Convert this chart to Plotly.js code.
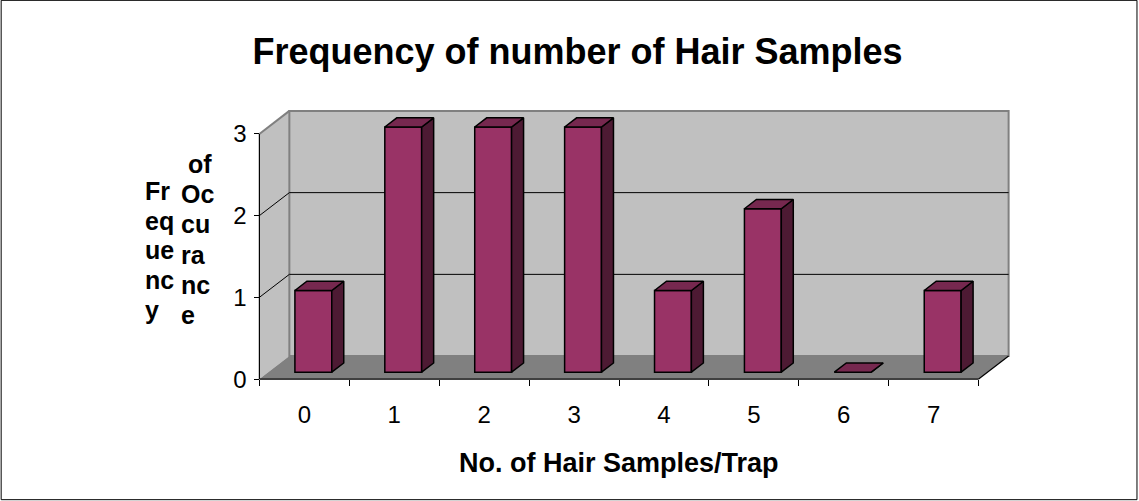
<!DOCTYPE html>
<html>
<head>
<meta charset="utf-8">
<script src="https://cdn.plot.ly/plotly-3.0.1.min.js"></script>
<style>html,body{margin:0;padding:0;background:#fff;}#chart{width:1139px;height:501px;}</style>
</head>
<body>
<div id="chart"></div>
<script>
// ---- data ----
const categories = ['0', '1', '2', '3', '4', '5', '6', '7'];
const frequency = [1, 3, 3, 3, 1, 2, 0, 1];
const yTickValues = [0, 1, 2, 3];
const yTickLabels = ['0', '1', '2', '3'];
const chartTitle = 'Frequency of number of Hair Samples';
const xTitle = 'No. of Hair Samples/Trap';
const yTitleCol1 = ['Fr', 'eq', 'ue', 'nc', 'y'];
const yTitleCol2 = ['of', 'Oc', 'cu', 'ra', 'nc', 'e'];

// ---- 3D oblique projection settings ----
const W = 1139, H = 501;
const DX = 1 / 3;       // depth offset along x (category units)
const DY = 23 / 81.67;  // depth offset along y (value units)
const FRONT = 0.3, BACK = 0.7; // bar depth band
const BW = 0.41;        // bar width
const NCAT = categories.length;
const YMAX = 3;
const E = 0.06;
const PXX = 90, PXY = 81.67;

const xRange = [-0.5 - E, NCAT - 0.5 + DX + E];
const yRange = [-E, YMAX + DY + E];
const plotW = (xRange[1] - xRange[0]) * PXX;
const plotH = (yRange[1] - yRange[0]) * PXY;
const mL = 259 - E * PXX;
const mR = W - mL - plotW;
const mB = (H - 379) - E * PXY;
const mT = H - mB - plotH;

const FONT = 'Arial, "Liberation Sans", Helvetica, sans-serif';
const FRONT_COL = '#993366', TOP_COL = '#76284f', SIDE_COL = '#4d1a33';

const traces = [];
// front faces via bar trace
const xs = categories.map((c, i) => i + FRONT * DX);
traces.push({
  type: 'bar', x: xs, y: frequency, base: frequency.map(() => FRONT * DY),
  width: BW, marker: {color: FRONT_COL, line: {color: '#000', width: 1.5}},
  hoverinfo: 'skip', showlegend: false, xaxis: 'x', yaxis: 'y'
});
// top and side faces
frequency.forEach((v, i) => {
  const x0 = i - BW / 2, x1 = i + BW / 2;
  traces.push({
    type: 'scatter', mode: 'lines', fill: 'toself', fillcolor: SIDE_COL,
    x: [x1 + FRONT * DX, x1 + FRONT * DX, x1 + BACK * DX, x1 + BACK * DX, x1 + FRONT * DX],
    y: [FRONT * DY, v + FRONT * DY, v + BACK * DY, BACK * DY, FRONT * DY],
    line: {color: '#000', width: 1.5}, hoverinfo: 'skip', showlegend: false
  });
  traces.push({
    type: 'scatter', mode: 'lines', fill: 'toself', fillcolor: TOP_COL,
    x: [x0 + FRONT * DX, x1 + FRONT * DX, x1 + BACK * DX, x0 + BACK * DX, x0 + FRONT * DX],
    y: [v + FRONT * DY, v + FRONT * DY, v + BACK * DY, v + BACK * DY, v + FRONT * DY],
    line: {color: '#000', width: 1.5}, hoverinfo: 'skip', showlegend: false
  });
});
// invisible trace for the tick-mark axis
traces.push({type: 'scatter', x: [0], y: [0], mode: 'markers', marker: {opacity: 0}, xaxis: 'x2', yaxis: 'y', hoverinfo: 'skip', showlegend: false});

const shapes = [];
const L = -0.5, R = NCAT - 0.5;
function line(x0, y0, x1, y1, color, width) {
  shapes.push({type: 'line', xref: 'x', yref: 'y', x0, y0, x1, y1, layer: 'below', line: {color, width}});
}
// left wall
shapes.push({type: 'path', xref: 'x', yref: 'y', layer: 'below',
  path: `M ${L},0 L ${L + DX},${DY} L ${L + DX},${YMAX + DY} L ${L},${YMAX} Z`,
  fillcolor: '#c0c0c0', line: {width: 0}});
// back wall
shapes.push({type: 'rect', xref: 'x', yref: 'y', layer: 'below',
  x0: L + DX, x1: R + DX, y0: DY, y1: YMAX + DY,
  fillcolor: '#c0c0c0', line: {color: '#808080', width: 2}});
// floor
shapes.push({type: 'path', xref: 'x', yref: 'y', layer: 'below',
  path: `M ${L},0 L ${R},0 L ${R + DX},${DY} L ${L + DX},${DY} Z`,
  fillcolor: '#808080', line: {width: 0}});
// gridlines
yTickValues.forEach(v => {
  if (v > 0 && v < YMAX) {
    line(L, v, L + DX, v + DY, '#000', 1);
    line(L + DX, v + DY, R + DX, v + DY, '#000', 1);
  }
});
line(L, YMAX, L + DX, YMAX + DY, '#808080', 2);
// axes
line(L, 0, R, 0, '#000', 1.2);
line(R, 0, R + DX, DY, '#000', 1.2);
line(L, 0, L, YMAX, '#000', 1.2);
// outer border
shapes.push({type: 'rect', xref: 'paper', yref: 'paper',
  x0: (0.5 - mL) / plotW, x1: (1137.5 - mL) / plotW,
  y0: (H - mB - 499.5) / plotH, y1: (H - mB - 0.5) / plotH,
  line: {color: '#000', width: 1}, fillcolor: 'rgba(0,0,0,0)'});

function pxX(p) { return (p - mL) / plotW; }
function pxY(p) { return (H - mB - p) / plotH; }

const annotations = [
  {text: xTitle, xref: 'paper', yref: 'paper', x: pxX(619), y: pxY(463), xanchor: 'center', yanchor: 'middle',
   showarrow: false, font: {family: FONT, size: 27, color: '#000', weight: 'bold'}}
];
const YT_SIZE = 25, YT_STEP = 29.7;
yTitleCol1.forEach((t, k) => annotations.push({
  text: t, xref: 'paper', yref: 'paper', x: pxX(142), y: pxY(191 + k * YT_STEP), xanchor: 'left', yanchor: 'middle',
  showarrow: false, font: {family: FONT, size: YT_SIZE, color: '#000', weight: 'bold'}}));
yTitleCol2.forEach((t, k) => annotations.push({
  text: t, xref: 'paper', yref: 'paper', x: pxX(k === 0 ? 186 : 179), y: pxY(164 + k * 30.2), xanchor: 'left', yanchor: 'middle',
  showarrow: false, font: {family: FONT, size: YT_SIZE, color: '#000', weight: 'bold'}}));

const layout = {
  width: W, height: H,
  margin: {l: mL, r: mR, t: mT, b: mB, pad: 0},
  paper_bgcolor: '#fff', plot_bgcolor: 'rgba(0,0,0,0)',
  showlegend: false,
  title: {text: chartTitle, xref: 'container', yref: 'container', x: 577.5 / W, y: 1 - 51 / H,
    xanchor: 'center', yanchor: 'middle', font: {family: FONT, size: 36, color: '#000', weight: 'bold'}},
  xaxis: {range: xRange, anchor: 'free', position: E / (yRange[1] - yRange[0]),
    tickmode: 'array', tickvals: categories.map((c, i) => i), ticktext: categories,
    ticks: 'outside', ticklen: 14, tickcolor: 'rgba(0,0,0,0)',
    showgrid: false, zeroline: false, showline: false,
    tickfont: {family: FONT, size: 24, color: '#000'}, fixedrange: true},
  xaxis2: {range: xRange, overlaying: 'x', anchor: 'free', position: E / (yRange[1] - yRange[0]),
    tickmode: 'array', tickvals: categories.map((c, i) => i - 0.5).concat([NCAT - 0.5]),
    ticks: 'outside', ticklen: 6, tickcolor: '#000', tickwidth: 1,
    showticklabels: false, showgrid: false, zeroline: false, showline: false, fixedrange: true},
  yaxis: {range: yRange, anchor: 'free', position: E / (xRange[1] - xRange[0]),
    tickmode: 'array', tickvals: yTickValues, ticktext: yTickLabels,
    ticks: 'outside', ticklen: 5, tickcolor: '#000', tickwidth: 1, ticklabelstandoff: 3,
    showgrid: false, zeroline: false, showline: false,
    tickfont: {family: FONT, size: 24, color: '#000'}, fixedrange: true},
  shapes, annotations
};

Plotly.newPlot('chart', traces, layout, {displayModeBar: false, staticPlot: true});
</script>
</body>
</html>
